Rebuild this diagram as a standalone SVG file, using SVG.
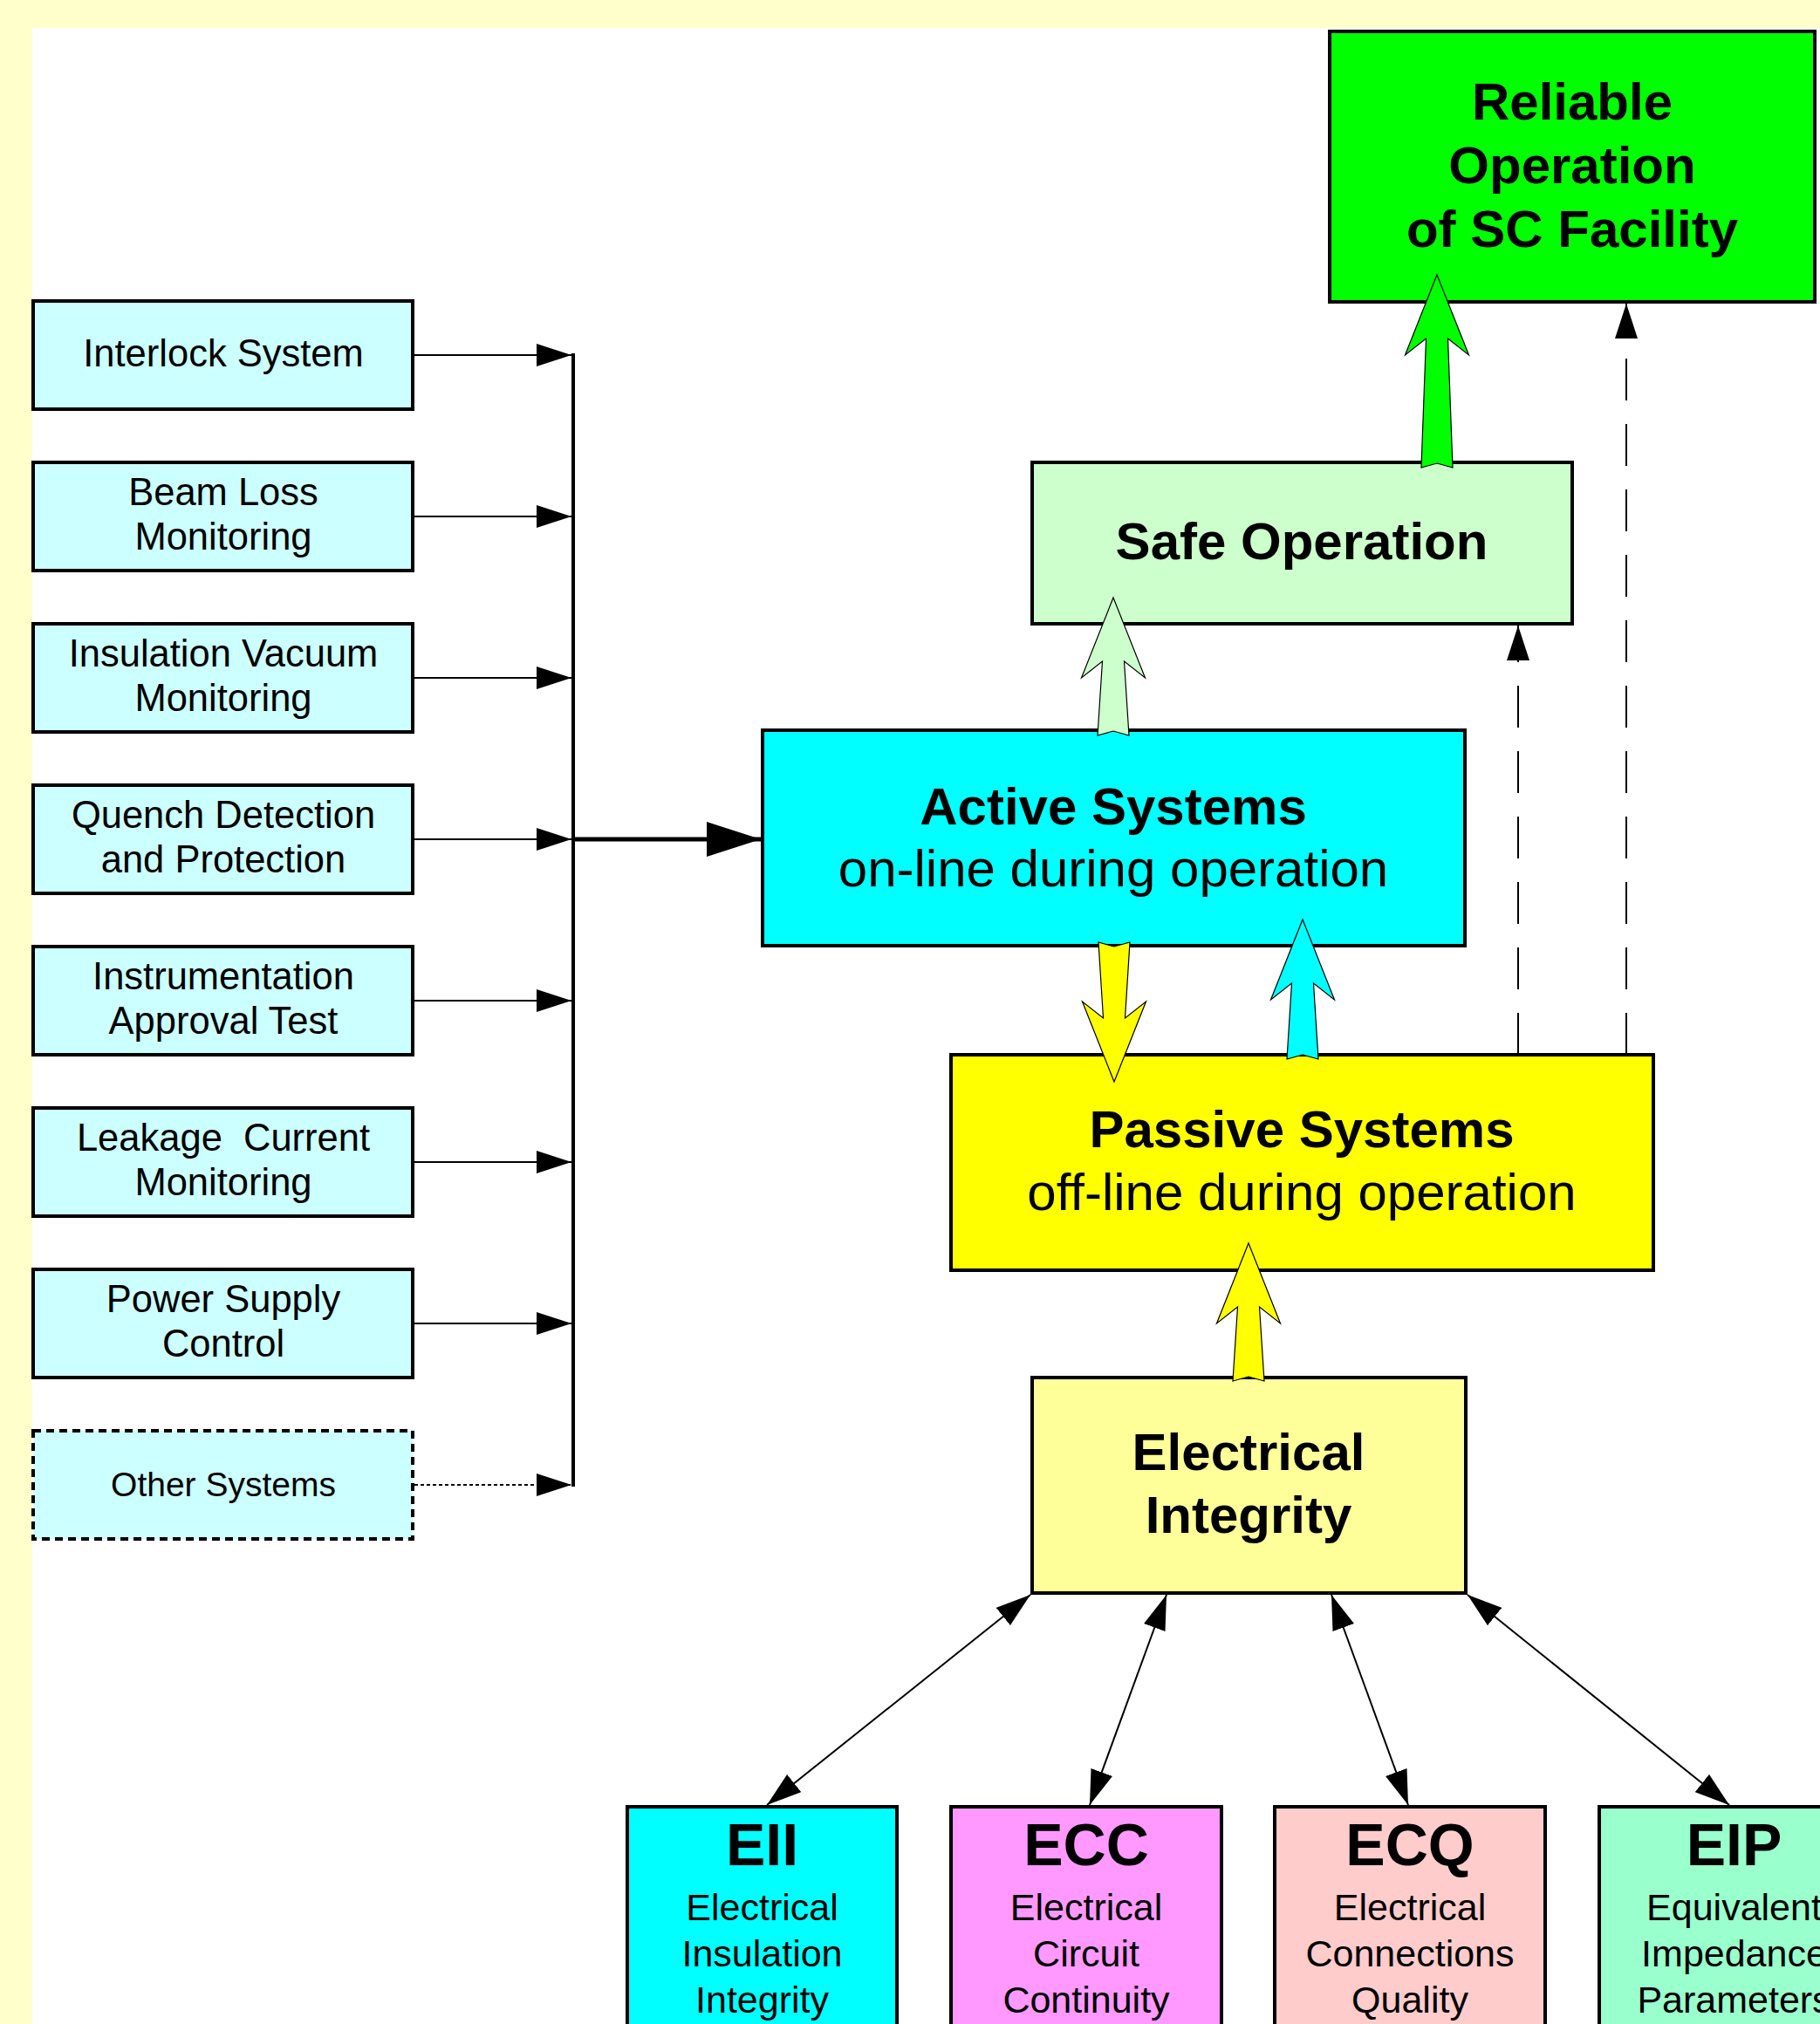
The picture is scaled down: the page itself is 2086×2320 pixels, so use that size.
<svg xmlns="http://www.w3.org/2000/svg" width="2086" height="2320" viewBox="0 0 2086 2320">
<style>
text{font-family:"Liberation Sans",Arial,sans-serif;fill:#000;text-anchor:middle}
.box{stroke:#000;stroke-width:4}
.sys{fill:#CCFFFF}
.lbl{font-size:43.5px}
.big{font-size:60px;font-weight:bold}
.mid{font-size:60px}
.code{font-size:68px;font-weight:bold}
.sub{font-size:43px}
.conn{stroke:#000;stroke-width:2;fill:none}
.blk{stroke:#000;stroke-width:1.2;stroke-linejoin:miter}
</style>
<defs>
<marker id="tri" viewBox="0 0 40 26" refX="40" refY="13" markerWidth="40" markerHeight="26" markerUnits="userSpaceOnUse" orient="auto-start-reverse">
<path d="M0,0 L40,13 L0,26 Z" fill="#000"/>
</marker>
<marker id="bigtri" viewBox="0 0 62 40" refX="62" refY="20" markerWidth="62" markerHeight="40" markerUnits="userSpaceOnUse" orient="auto">
<path d="M0,0 L62,20 L0,40 Z" fill="#000"/>
</marker>
</defs>
<rect x="0" y="0" width="2086" height="2320" fill="#FFFFCC"/>
<rect x="37" y="32" width="2049" height="2288" fill="#FFFFFF"/>

<g id="interlock"><rect class="box sys" x="38" y="345" width="435" height="124"/><text class="lbl" x="256" y="420">Interlock System</text></g>
<g id="beamloss"><rect class="box sys" x="38" y="530" width="435" height="124"/><text class="lbl" x="256" y="579">Beam Loss</text><text class="lbl" x="256" y="630">Monitoring</text></g>
<g id="insvac"><rect class="box sys" x="38" y="715" width="435" height="124"/><text class="lbl" x="256" y="764">Insulation Vacuum</text><text class="lbl" x="256" y="815">Monitoring</text></g>
<g id="quench"><rect class="box sys" x="38" y="900" width="435" height="124"/><text class="lbl" x="256" y="949">Quench Detection</text><text class="lbl" x="256" y="1000">and Protection</text></g>
<g id="instr"><rect class="box sys" x="38" y="1085" width="435" height="124"/><text class="lbl" x="256" y="1134">Instrumentation</text><text class="lbl" x="256" y="1185">Approval Test</text></g>
<g id="leakage"><rect class="box sys" x="38" y="1270" width="435" height="124"/><text class="lbl" x="256" y="1319" xml:space="preserve">Leakage  Current</text><text class="lbl" x="256" y="1370">Monitoring</text></g>
<g id="power"><rect class="box sys" x="38" y="1455" width="435" height="124"/><text class="lbl" x="256" y="1504">Power Supply</text><text class="lbl" x="256" y="1555">Control</text></g>
<g id="other"><rect class="box sys" x="38" y="1640" width="435" height="124" stroke-dasharray="9 6"/><text x="256" y="1715" font-size="39">Other Systems</text></g>

<g id="reliable"><rect class="box" x="1524" y="36" width="556" height="310" fill="#00FF00"/><text class="big" x="1802" y="137">Reliable</text><text class="big" x="1802" y="210">Operation</text><text class="big" x="1802" y="283">of SC Facility</text></g>
<g id="safe"><rect class="box" x="1183" y="530" width="619" height="185" fill="#CCFFCC"/><text class="big" x="1492" y="641">Safe Operation</text></g>
<g id="active"><rect class="box" x="874" y="837" width="805" height="247" fill="#00FFFF"/><text class="big" x="1276" y="945">Active Systems</text><text class="mid" x="1276" y="1016">on-line during operation</text></g>
<g id="passive"><rect class="box" x="1090" y="1209" width="805" height="247" fill="#FFFF00"/><text class="big" x="1492" y="1315">Passive Systems</text><text class="mid" x="1492" y="1387">off-line during operation</text></g>
<g id="integrity"><rect class="box" x="1183" y="1579" width="497" height="247" fill="#FFFF99"/><text class="big" x="1431" y="1685">Electrical</text><text class="big" x="1431" y="1757">Integrity</text></g>

<g id="eii"><rect class="box" x="719" y="2071" width="309" height="300" fill="#00FFFF"/><text class="code" x="873.5" y="2138">EII</text><text class="sub" x="873.5" y="2201">Electrical</text><text class="sub" x="873.5" y="2254">Insulation</text><text class="sub" x="873.5" y="2307">Integrity</text></g>
<g id="ecc"><rect class="box" x="1090" y="2071" width="310" height="300" fill="#FF99FF"/><text class="code" x="1245" y="2138">ECC</text><text class="sub" x="1245" y="2201">Electrical</text><text class="sub" x="1245" y="2254">Circuit</text><text class="sub" x="1245" y="2307">Continuity</text></g>
<g id="ecq"><rect class="box" x="1461" y="2071" width="310" height="300" fill="#FFCCCC"/><text class="code" x="1616" y="2138">ECQ</text><text class="sub" x="1616" y="2201">Electrical</text><text class="sub" x="1616" y="2254">Connections</text><text class="sub" x="1616" y="2307">Quality</text></g>
<g id="eip"><rect class="box" x="1833" y="2071" width="309" height="300" fill="#99FFCC"/><text class="code" x="1987.5" y="2138">EIP</text><text class="sub" x="1987.5" y="2201">Equivalent</text><text class="sub" x="1987.5" y="2254">Impedance</text><text class="sub" x="1987.5" y="2307">Parameters</text></g>

<g id="connectors">
<line class="conn" x1="475" y1="407" x2="655" y2="407" marker-end="url(#tri)"/>
<line class="conn" x1="475" y1="592" x2="655" y2="592" marker-end="url(#tri)"/>
<line class="conn" x1="475" y1="777" x2="655" y2="777" marker-end="url(#tri)"/>
<line class="conn" x1="475" y1="962" x2="655" y2="962" marker-end="url(#tri)"/>
<line class="conn" x1="475" y1="1147" x2="655" y2="1147" marker-end="url(#tri)"/>
<line class="conn" x1="475" y1="1332" x2="655" y2="1332" marker-end="url(#tri)"/>
<line class="conn" x1="475" y1="1517" x2="655" y2="1517" marker-end="url(#tri)"/>
<line class="conn" x1="475" y1="1702" x2="655" y2="1702" stroke-dasharray="4 3" marker-end="url(#tri)"/>
<line x1="657" y1="405" x2="657" y2="1704" stroke="#000" stroke-width="4"/>
<line x1="657" y1="962" x2="872" y2="962" stroke="#000" stroke-width="5" marker-end="url(#bigtri)"/>

<line class="conn" x1="1740" y1="1209" x2="1740" y2="717" stroke-dasharray="48 27" marker-end="url(#tri)"/>
<line class="conn" x1="1864" y1="1209" x2="1864" y2="348" stroke-dasharray="48 27" marker-end="url(#tri)"/>

<line class="conn" x1="1181" y1="1828" x2="879" y2="2069" marker-start="url(#tri)" marker-end="url(#tri)"/>
<line class="conn" x1="1337" y1="1828" x2="1249" y2="2069" marker-start="url(#tri)" marker-end="url(#tri)"/>
<line class="conn" x1="1526" y1="1828" x2="1614" y2="2069" marker-start="url(#tri)" marker-end="url(#tri)"/>
<line class="conn" x1="1682" y1="1828" x2="1982" y2="2069" marker-start="url(#tri)" marker-end="url(#tri)"/>

<path class="blk" fill="#00FF00" d="M1647,315 L1683.5,407 L1659.5,388 L1665,536 L1647,531 L1629,536 L1634.5,388 L1610.5,407 Z"/>
<path class="blk" fill="#CCFFCC" d="M1276,685 L1312.5,777 L1288.5,758 L1294,843 L1276,838 L1258,843 L1263.5,758 L1239.5,777 Z"/>
<path class="blk" fill="#FFFF00" d="M1277,1240 L1313.5,1148 L1289.5,1167 L1295,1080 L1277,1085 L1259,1080 L1264.5,1167 L1240.5,1148 Z"/>
<path class="blk" fill="#00FFFF" d="M1493,1054 L1529.5,1146 L1505.5,1127 L1511,1214 L1493,1209 L1475,1214 L1480.5,1127 L1456.5,1146 Z"/>
<path class="blk" fill="#FFFF00" d="M1431,1425 L1467.5,1517 L1443.5,1498 L1449,1583 L1431,1578 L1413,1583 L1418.5,1498 L1394.5,1517 Z"/>
</g>
</svg>
